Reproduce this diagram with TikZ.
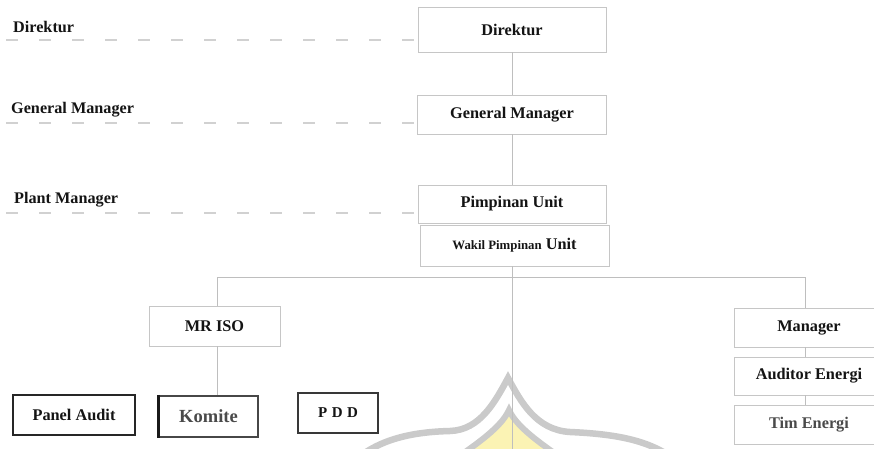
\documentclass[tikz,border=0pt]{standalone}
\usepackage{fontspec}
\setmainfont{Liberation Serif}
\definecolor{boxline}{HTML}{C6C6C6}
\definecolor{conn}{HTML}{BEBEBE}
\definecolor{wmgrey}{HTML}{CACACA}
\definecolor{wmyellow}{HTML}{FBF3B4}
\definecolor{txtgrey}{HTML}{4A4A4A}
\tikzset{
  orgbox/.style={draw=boxline, line width=0.9pt, fill=white, inner sep=0pt, align=center,
    font=\fontsize{16.3}{18}\selectfont\bfseries, text=black!92},
  darkbox/.style={draw=black!85, line width=2.2pt, fill=white, inner sep=0pt, align=center,
    font=\fontsize{16.3}{18}\selectfont\bfseries, text=black!92},
  lefttext/.style={anchor=west, inner sep=0pt, font=\fontsize{16.2}{18}\selectfont\bfseries, text=black!92},
  connline/.style={draw=conn, line width=0.9pt},
  dashline/.style={draw=boxline!80, line width=1.1pt, dash pattern=on 12pt off 21pt},
}
\begin{document}
\begin{tikzpicture}[x=1pt, y=-1pt]
\useasboundingbox (0,0) rectangle (874,449);
% watermark
\fill[wmyellow] (440,470) .. controls (470,448) and (500,430) .. (509,410)
   .. controls (518,430) and (548,448) .. (578,470) -- cycle;
\draw[wmgrey, line width=6pt] (440,470) .. controls (470,448) and (500,430) .. (509,410)
   .. controls (518,430) and (548,448) .. (578,470);
\draw[wmgrey, line width=6.5pt] (350,465) .. controls (375,440) and (410,432) .. (450,431)
   .. controls (480,430) and (495,402) .. (508,378)
   .. controls (521,402) and (536,430) .. (570,432)
   .. controls (615,434) and (650,440) .. (675,460);
% left level labels
\node[lefttext] (ldir) at (13,27) {Direktur};
\node[lefttext] (lgm) at (11,110) {General Manager};
\node[lefttext] (lpm) at (14,200) {Plant Manager};
% main column
\node[orgbox, minimum width=188pt, minimum height=45pt] (dir) at (512,29.5) {Direktur};
\node[orgbox, minimum width=189pt, minimum height=39pt] (gm) at (512,114.5) {General Manager};
\node[orgbox, minimum width=188pt, minimum height=38pt] (pu) at (512,204) {Pimpinan Unit};
\node[orgbox, minimum width=189pt, minimum height=41pt] (wpu) at (514.5,245.5)
  {{\fontsize{12.8}{15}\selectfont Wakil Pimpinan} Unit};
% dashed level lines
\coordinate (d1) at (6,40);
\coordinate (d2) at (6,123);
\coordinate (d3) at (6,213);
\draw[dashline] (d1) -- (d1 -| dir.west);
\draw[dashline] (d2) -- (d2 -| gm.west);
\draw[dashline] (d3) -- (d3 -| pu.west);
% second level
\node[orgbox, minimum width=131pt, minimum height=40pt] (mr) at (214.5,326) {MR ISO};
\node[orgbox, minimum width=150pt, minimum height=39pt] (mgr) at (809,327.5) {Manager};
\node[orgbox, minimum width=150pt, minimum height=38pt] (aud) at (809,376) {Auditor Energi};
\node[orgbox, minimum width=150pt, minimum height=39pt, text=txtgrey] (tim) at (809,424.5) {Tim Energi};
% third level
\node[darkbox, minimum width=122pt, minimum height=40pt] (pa) at (74,415) {Panel Audit};
\node[darkbox, draw=black!72, minimum width=99pt, minimum height=41pt, text=txtgrey,
  font=\fontsize{18.5}{20}\selectfont\bfseries] (kom) at (208.5,416.5) {Komite};
\node[darkbox, draw=black!78, minimum width=80pt, minimum height=40pt,
  font=\fontsize{15}{16}\selectfont\bfseries] (pdd) at (338,413) {P\hspace{4.5pt}D\hspace{4.5pt}D};
\draw[black!90, line width=2.6pt] ([xshift=0.6pt]kom.north west) -- ([xshift=0.6pt]kom.south west);
% connectors
\draw[connline] (dir.south) -- (gm.north);
\draw[connline] (gm.south) -- (pu.north);
\coordinate (bot) at (512,449);
\draw[connline] (bot |- wpu.south) -- (bot);
\coordinate (busL) at (217,277);
\coordinate (busR) at (805,277);
\draw[connline] (busL |- mr.north) -- (busL) -- (busR) -- (busR |- mgr.north);
\draw[connline] (busL |- mr.south) -- (busL |- kom.north);
\draw[connline] (busR |- mgr.south) -- (busR |- aud.north);
\draw[connline] (busR |- aud.south) -- (busR |- tim.north);
\end{tikzpicture}
\end{document}
